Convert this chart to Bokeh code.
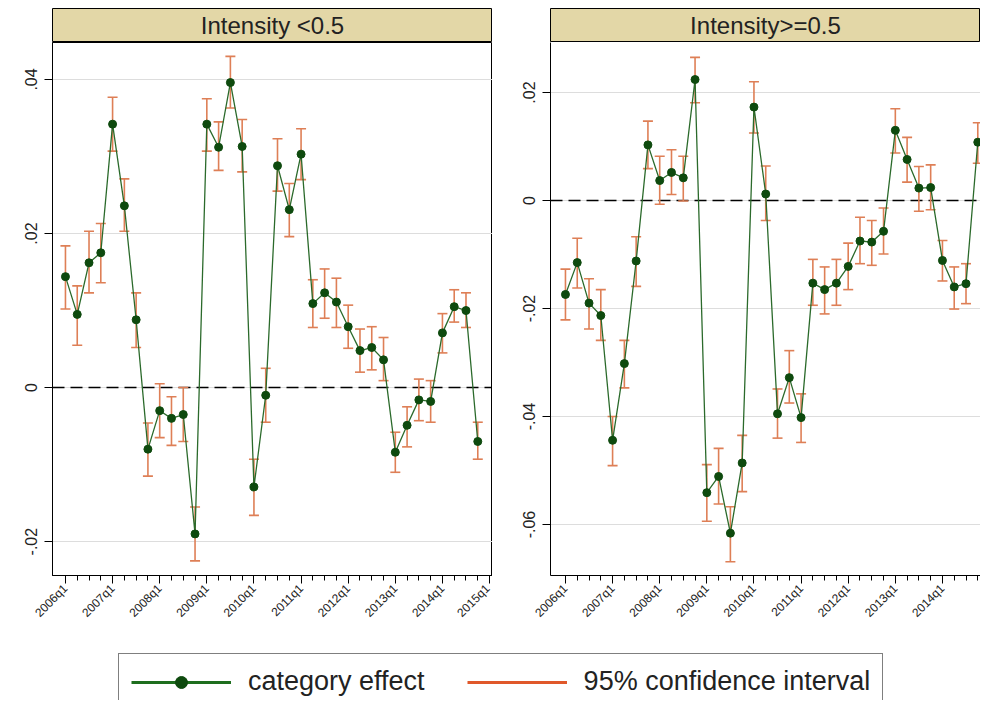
import math
from bokeh.plotting import figure
from bokeh.models import (ColumnDataSource, Whisker, TeeHead, Span, FixedTicker,
                          Range1d, Label, Legend, LegendItem)
from bokeh.layouts import column, row
from bokeh.embed import file_html
from bokeh.resources import INLINE

# ---------------- data ----------------
quarter_index = list(range(36))          # 2006q1 ... 2014q4
quarter_ticks = list(range(37))          # minor ticks at every quarter
year_tick_pos = [0, 4, 8, 12, 16, 20, 24, 28, 32, 36]
year_tick_labels = ["2006q1", "2007q1", "2008q1", "2009q1", "2010q1",
                    "2011q1", "2012q1", "2013q1", "2014q1", "2015q1"]

panel_titles = ["Intensity <0.5", "Intensity>=0.5"]

left_est = [0.0144, 0.0095, 0.0162, 0.0175, 0.0342, 0.0236, 0.0088, -0.0080,
            -0.0030, -0.0040, -0.0035, -0.0190, 0.0342, 0.0312, 0.0396, 0.0313,
            -0.0129, -0.0010, 0.0288, 0.0231, 0.0303, 0.0109, 0.0123, 0.0111,
            0.0079, 0.0048, 0.0052, 0.0036, -0.0084, -0.0049, -0.0016, -0.0018,
            0.0071, 0.0105, 0.0100, -0.0070]
left_hi = [0.0184, 0.0132, 0.0203, 0.0213, 0.0377, 0.0271, 0.0123, -0.0046,
           0.0005, -0.0012, 0.0000, -0.0155, 0.0375, 0.0345, 0.0430, 0.0348,
           -0.0093, 0.0025, 0.0323, 0.0265, 0.0336, 0.0140, 0.0154, 0.0142,
           0.0107, 0.0076, 0.0079, 0.0065, -0.0058, -0.0025, 0.0011, 0.0009,
           0.0096, 0.0127, 0.0123, -0.0045]
left_lo = [0.0102, 0.0055, 0.0123, 0.0136, 0.0307, 0.0203, 0.0052, -0.0115,
           -0.0065, -0.0075, -0.0070, -0.0225, 0.0307, 0.0282, 0.0363, 0.0280,
           -0.0166, -0.0045, 0.0255, 0.0196, 0.0270, 0.0078, 0.0090, 0.0078,
           0.0051, 0.0020, 0.0023, 0.0009, -0.0110, -0.0077, -0.0043, -0.0045,
           0.0045, 0.0085, 0.0078, -0.0093]

right_est = [-0.0174, -0.0115, -0.0190, -0.0213, -0.0444, -0.0302, -0.0112, 0.0103,
             0.0037, 0.0052, 0.0042, 0.0224, -0.0541, -0.0511, -0.0616, -0.0486,
             0.0173, 0.0012, -0.0395, -0.0328, -0.0402, -0.0153, -0.0165, -0.0153,
             -0.0122, -0.0075, -0.0077, -0.0057, 0.0130, 0.0076, 0.0023, 0.0024,
             -0.0111, -0.0160, -0.0154, 0.0108]
right_hi = [-0.0127, -0.0070, -0.0145, -0.0165, -0.0400, -0.0259, -0.0067, 0.0147,
            0.0082, 0.0094, 0.0082, 0.0265, -0.0489, -0.0459, -0.0567, -0.0435,
            0.0220, 0.0064, -0.0349, -0.0278, -0.0358, -0.0109, -0.0123, -0.0109,
            -0.0079, -0.0031, -0.0037, -0.0014, 0.0170, 0.0117, 0.0063, 0.0066,
            -0.0074, -0.0123, -0.0117, 0.0144]
right_lo = [-0.0221, -0.0162, -0.0238, -0.0259, -0.0491, -0.0347, -0.0159, 0.0059,
            -0.0007, 0.0011, -0.0001, 0.0181, -0.0594, -0.0562, -0.0669, -0.0539,
            0.0125, -0.0037, -0.0440, -0.0375, -0.0448, -0.0194, -0.0210, -0.0194,
            -0.0165, -0.0117, -0.0120, -0.0099, 0.0088, 0.0034, -0.0020, -0.0017,
            -0.0149, -0.0201, -0.0191, 0.0069]

left_yticks = [-0.02, 0, 0.02, 0.04]
left_ytick_labels = ["-.02", "0", ".02", ".04"]
right_yticks = [-0.06, -0.04, -0.02, 0, 0.02]
right_ytick_labels = ["-.06", "-.04", "-.02", "0", ".02"]

legend_labels = ["category effect", "95% confidence interval"]

# ---------------- style ----------------
FONT = "Liberation Sans"
HEADER_FILL = "#E3D7A7"
LINE_GREEN = "#2B6A2B"
DOT_GREEN = "#0E4A0E"
CI_ORANGE = "#DE7F56"
LEG_GREEN = "#1E6E1E"
LEG_ORANGE = "#E0582A"
TEXT = "#222222"

TOP_B = 8
HEADER_H = 34
FRAME_H = 533
BOTTOM_B = 70
LEGEND_H = 55


def make_panel(title, est, lo, hi, y_range, yticks, ytick_labels,
               x_range, border_left, frame_w, right_outline):
    fig_w = border_left + frame_w

    hdr = figure(width=fig_w, height=TOP_B + HEADER_H, x_range=Range1d(0, 1),
                 y_range=Range1d(0, 1),
                 output_backend="svg", toolbar_location=None,
                 x_axis_location=None, y_axis_location=None,
                 min_border_left=border_left, min_border_right=0,
                 min_border_top=TOP_B, min_border_bottom=0)
    hdr.grid.visible = False
    hdr.background_fill_color = HEADER_FILL
    hdr.border_fill_color = "white"
    hdr.outline_line_color = "black"
    hdr.outline_line_width = 1
    hdr.add_layout(Label(x=0.5, y=0.5, text=title, text_align="center",
                         text_baseline="middle", text_font=FONT,
                         text_font_size="24px", text_color=TEXT))

    p = figure(width=fig_w, height=FRAME_H + BOTTOM_B,
               x_range=Range1d(*x_range), y_range=Range1d(*y_range),
               output_backend="svg", toolbar_location=None,
               min_border_left=border_left, min_border_right=0,
               min_border_top=0, min_border_bottom=BOTTOM_B)
    p.background_fill_color = "white"
    p.border_fill_color = "white"
    p.outline_line_color = "black" if right_outline else None
    p.outline_line_width = 1
    p.xgrid.visible = False
    p.ygrid.grid_line_color = "#DDDDDD"
    p.ygrid.grid_line_width = 1

    # y axis
    p.yaxis.ticker = FixedTicker(ticks=yticks, minor_ticks=[])
    p.yaxis.major_label_overrides = dict(zip(yticks, ytick_labels))
    p.yaxis.major_label_orientation = "vertical"
    p.yaxis.major_tick_out = 8
    p.yaxis.major_tick_in = 0
    p.yaxis.minor_tick_line_color = None
    p.yaxis.axis_line_color = "black"
    p.yaxis.major_tick_line_color = "black"
    p.yaxis.major_label_text_font = FONT
    p.yaxis.major_label_text_font_size = "16px"
    p.yaxis.major_label_text_color = TEXT
    p.yaxis.major_label_standoff = 7

    # x axis
    p.xaxis.ticker = FixedTicker(ticks=year_tick_pos, minor_ticks=quarter_ticks)
    p.xaxis.major_label_overrides = dict(zip(year_tick_pos, year_tick_labels))
    p.xaxis.major_label_orientation = math.pi / 4
    p.xaxis.major_tick_out = 8
    p.xaxis.major_tick_in = 0
    p.xaxis.minor_tick_out = 5
    p.xaxis.minor_tick_in = 0
    p.xaxis.axis_line_color = "black"
    p.xaxis.major_tick_line_color = "black"
    p.xaxis.minor_tick_line_color = "black"
    p.xaxis.major_label_text_font = FONT
    p.xaxis.major_label_text_font_size = "12px"
    p.xaxis.major_label_text_color = TEXT
    p.xaxis.major_label_standoff = 3

    src = ColumnDataSource(dict(x=quarter_index, est=est, lo=lo, hi=hi))

    p.add_layout(Span(location=0, dimension="width", line_color="black",
                      line_width=1.5, line_dash="12 6", level="underlay"))
    w = Whisker(source=src, base="x", upper="hi", lower="lo",
                line_color=CI_ORANGE, line_width=1.6,
                upper_head=TeeHead(size=10, line_color=CI_ORANGE, line_width=1.6),
                lower_head=TeeHead(size=10, line_color=CI_ORANGE, line_width=1.6))
    p.add_layout(w)
    p.line("x", "est", source=src, line_color=LINE_GREEN, line_width=1.3)
    p.scatter("x", "est", source=src, size=8, fill_color=DOT_GREEN,
              line_color=DOT_GREEN)

    return column(hdr, p), src


left, left_src = make_panel(panel_titles[0], left_est, left_lo, left_hi,
                            (-0.0244, 0.0448), left_yticks, left_ytick_labels,
                            (-1.1, 36.25), 52, 440, True)
right, _ = make_panel(panel_titles[1], right_est, right_lo, right_hi,
                      (-0.06944, 0.02926), right_yticks, right_ytick_labels,
                      (-1.27, 35.23), 58, 430, False)

# ---------------- legend ----------------
# legend renderers reuse the series data but the ranges keep them out of view
lg = figure(width=980, height=LEGEND_H, x_range=Range1d(100, 101), y_range=Range1d(100, 101),
            output_backend="svg", toolbar_location=None,
            x_axis_location=None, y_axis_location=None, min_border=0)
lg.grid.visible = False
lg.outline_line_color = None
leg_src = ColumnDataSource(dict(x=quarter_index, est=left_est, lo=left_lo, hi=left_hi))
r1 = lg.line("x", "est", source=leg_src, line_color=LEG_GREEN, line_width=3)
r2 = lg.scatter("x", "est", source=leg_src, size=11, fill_color=DOT_GREEN,
                line_color=DOT_GREEN)
r3 = lg.segment(x0="x", y0="lo", x1="x", y1="hi", source=leg_src,
                line_color=LEG_ORANGE, line_width=3)
legend = Legend(items=[LegendItem(label=legend_labels[0], renderers=[r1, r2]),
                       LegendItem(label=legend_labels[1], renderers=[r3])],
                orientation="horizontal", location=(118, -10),
                glyph_width=100, glyph_height=30, label_height=30,
                label_standoff=17, spacing=42,
                padding=12, margin=0, border_line_color="black", border_line_width=1,
                label_text_font=FONT, label_text_font_size="27px",
                label_text_color=TEXT, background_fill_color="white",
                background_fill_alpha=1)
lg.add_layout(legend, "center")

layout = column(row(left, right), lg)

open("out.html", "w").write(file_html(layout, INLINE))
